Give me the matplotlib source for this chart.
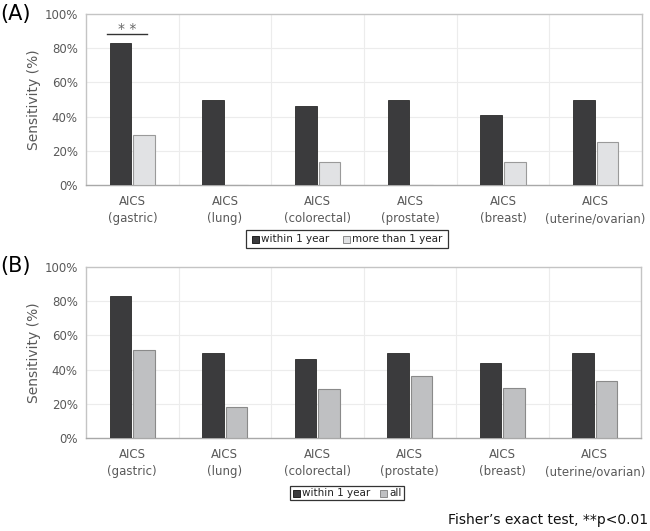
import matplotlib

matplotlib.use("Agg")
import matplotlib.pyplot as plt
import numpy as np
from matplotlib.patches import Rectangle

# ---------------------------------------------------------------------------
# Data (sensitivity, %)
# ---------------------------------------------------------------------------
CATEGORIES = ["AICS\n(gastric)", "AICS\n(lung)", "AICS\n(colorectal)",
              "AICS\n(prostate)", "AICS\n(breast)", "AICS\n(uterine/ovarian)"]

A_WITHIN = [83.3, 50.0, 46.2, 50.0, 41.2, 50.0]
A_MORE = [29.4, 0.0, 13.3, 0.0, 13.3, 25.0]

B_WITHIN = [83.3, 50.0, 46.2, 50.0, 43.8, 50.0]
B_ALL = [51.7, 18.2, 28.6, 36.4, 29.2, 33.3]

YTICKS = [0, 20, 40, 60, 80, 100]

DARK = "#3b3b3d"
LIGHT_A = "#e1e2e4"
LIGHT_B = "#bfc0c2"
GREY_TXT = "#595959"
GRID = "#ececec"
W, H = 650, 531


def draw_panel(ax, within, other, other_color, other_edge):
    x = np.arange(len(CATEGORIES))
    bw = 0.235
    ax.bar(x - 0.128, within, width=bw, color=DARK, edgecolor="#2a2a2a",
           linewidth=0.6, zorder=3)
    ax.bar(x + 0.128, other, width=bw, color=other_color, edgecolor=other_edge,
           linewidth=0.8, zorder=3)
    ax.set_xlim(-0.5, len(CATEGORIES) - 0.5)
    ax.set_ylim(0, 100)
    ax.set_yticks(YTICKS)
    ax.set_yticklabels([f"{v}%" for v in YTICKS])
    ax.set_xticks(x)
    ax.set_xticklabels(CATEGORIES, linespacing=1.45)
    # vertical separators between categories
    for b in np.arange(0.5, len(CATEGORIES) - 0.5, 1.0):
        ax.axvline(b, color=GRID, linewidth=0.8, zorder=1)
    for t in YTICKS[1:-1]:
        ax.axhline(t, color=GRID, linewidth=0.8, zorder=1)
    ax.tick_params(axis="both", length=0, labelsize=8.5, colors=GREY_TXT, pad=6)
    ax.tick_params(axis="x", pad=7)
    for s in ax.spines.values():
        s.set_color("#c4c4c4")
        s.set_linewidth(1.0)
    ax.spines["bottom"].set_color("#a8a8a8")
    ax.set_ylabel("Sensitivity (%)", fontsize=10, color=GREY_TXT)
    ax.yaxis.set_label_coords(-0.081, 0.5)


def draw_legend(fig, x0, y0, x1, y1, labels, colors, edges, label_x):
    fig.add_artist(Rectangle((x0 / W, 1 - y1 / H), (x1 - x0) / W, (y1 - y0) / H,
                             transform=fig.transFigure, facecolor="white",
                             edgecolor="#333333", linewidth=0.9))
    yc = (y0 + y1) / 2
    for lab, c, e, lx in zip(labels, colors, edges, label_x):
        fig.add_artist(Rectangle(((lx - 9) / W, 1 - (yc + 3.5) / H), 7 / W, 7 / H,
                                 transform=fig.transFigure, facecolor=c,
                                 edgecolor=e, linewidth=0.7))
        fig.text(lx / W, 1 - yc / H, lab, fontsize=7.5, color="#222222",
                 ha="left", va="center")


fig = plt.figure(figsize=(6.5, 5.31), dpi=100)
fig.patch.set_facecolor("white")

ax_a = fig.add_axes([86 / W, 1 - 185 / H, (642 - 86) / W, (185 - 14) / H])
ax_b = fig.add_axes([86 / W, 1 - 438 / H, (641 - 86) / W, (438 - 267) / H])

draw_panel(ax_a, A_WITHIN, A_MORE, LIGHT_A, "#9a9a9a")
draw_panel(ax_b, B_WITHIN, B_ALL, LIGHT_B, "#8a8a8a")

# significance marker on gastric
ax_a.plot([-0.275, 0.16], [88.5, 88.5], color="#333333", linewidth=1.0,
          clip_on=False, zorder=4)
ax_a.text(-0.06, 87.0, "* *", ha="center", va="bottom", fontsize=10,
          color="#666666")

fig.text(0 / W, 1 - 14 / H, "(A)", fontsize=15, ha="left", va="center")
fig.text(0 / W, 1 - 266 / H, "(B)", fontsize=15, ha="left", va="center")

draw_legend(fig, 246, 230, 448, 248, ["within 1 year", "more than 1 year"],
            [DARK, LIGHT_A], ["#222222", "#8a8a8a"], [261, 352])
draw_legend(fig, 290, 486, 404, 500, ["within 1 year", "all"],
            [DARK, LIGHT_B], ["#222222", "#8a8a8a"], [302, 389])

fig.text(648 / W, 1 - 520 / H, "Fisher\u2019s exact test, **p<0.01",
         fontsize=10, ha="right", va="center", color="#111111")

fig.savefig("out.png", dpi=100, facecolor="white")
